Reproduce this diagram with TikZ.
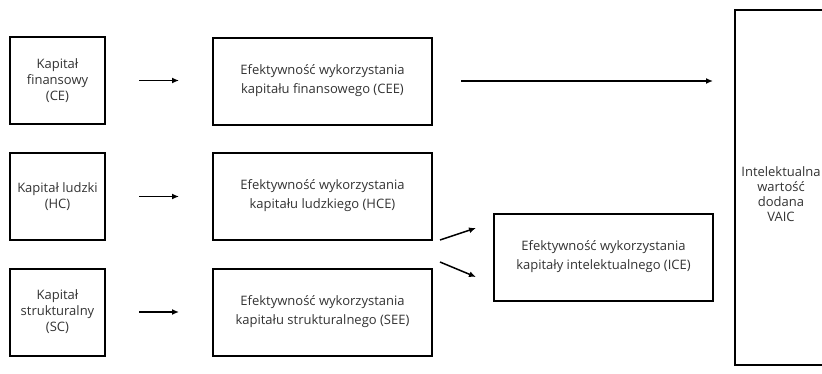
\documentclass[tikz,border=0pt]{standalone}
\usepackage{fontspec}
\setmainfont{Open Sans}
\usepackage{tikz}
\usetikzlibrary{positioning}
\usetikzlibrary{calc}
\usetikzlibrary{arrows.meta}
\tikzset{srcbox/.style={draw, line width=2pt, minimum width=95pt, minimum height=87pt, align=center, text=black!80, font=\fontsize{13}{16}\selectfont}}
\tikzset{effbox/.style={draw, line width=2pt, minimum width=219pt, minimum height=87pt, align=center, text=black!80, font=\fontsize{13}{19}\selectfont}}
\tikzset{myarrow/.style={line width=1.5pt, -{Latex[length=7pt, width=6pt]}}}
\begin{document}
\begin{tikzpicture}[x=1pt, y=-1pt]
\clip (0, 0) rectangle (822, 373);
\fill[white] (0, 0) rectangle (822, 373);

\node[srcbox] (ce) at (57.5, 80.5) {Kapitał\\finansowy\\(CE)};
\node[srcbox] (hc) at (57.5, 196.5) {Kapitał ludzki\\(HC)};
\node[srcbox] (sc) at (57.5, 312) {Kapitał\\strukturalny\\(SC)};

\node[effbox] (cee) at (322.5, 81) {Efektywność wykorzystania\\kapitału finansowego (CEE)};
\node[effbox] (hce) at (322.5, 196) {Efektywność wykorzystania\\kapitału ludzkiego (HCE)};
\node[effbox] (see) at (322.5, 312) {Efektywność wykorzystania\\kapitału strukturalnego (SEE)};

\node[effbox] (ice) at (603.5, 257) {Efektywność wykorzystania\\kapitały intelektualnego (ICE)};

\node[draw, line width=2pt, minimum width=180pt, minimum height=355pt] (vaic) at (825, 187.5) {};
\node[align=center, text=black!80, font=\fontsize{13}{15}\selectfont] (vaictxt) at (781, 194) {Intelektualna\\wartość\\dodana\\VAIC};

\coordinate (h1) at (440, 240);
\coordinate (h2) at (476, 228);
\coordinate (s1) at (440, 262);
\coordinate (s2) at (476, 277);

\draw[myarrow, shorten <=33pt, shorten >=33pt] (ce.east) to (ce.east -| cee.west);
\draw[myarrow, shorten <=33pt, shorten >=33pt] (hc.east) to (hc.east -| hce.west);
\draw[myarrow, shorten <=33pt, shorten >=33pt] (sc.east) to (sc.east -| see.west);

\draw[myarrow, shorten <=28pt, shorten >=21pt] (cee.east) to (cee.east -| vaic.west);
\draw[myarrow] (h1) to (h2);
\draw[myarrow] (s1) to (s2);

\end{tikzpicture}
\end{document}
